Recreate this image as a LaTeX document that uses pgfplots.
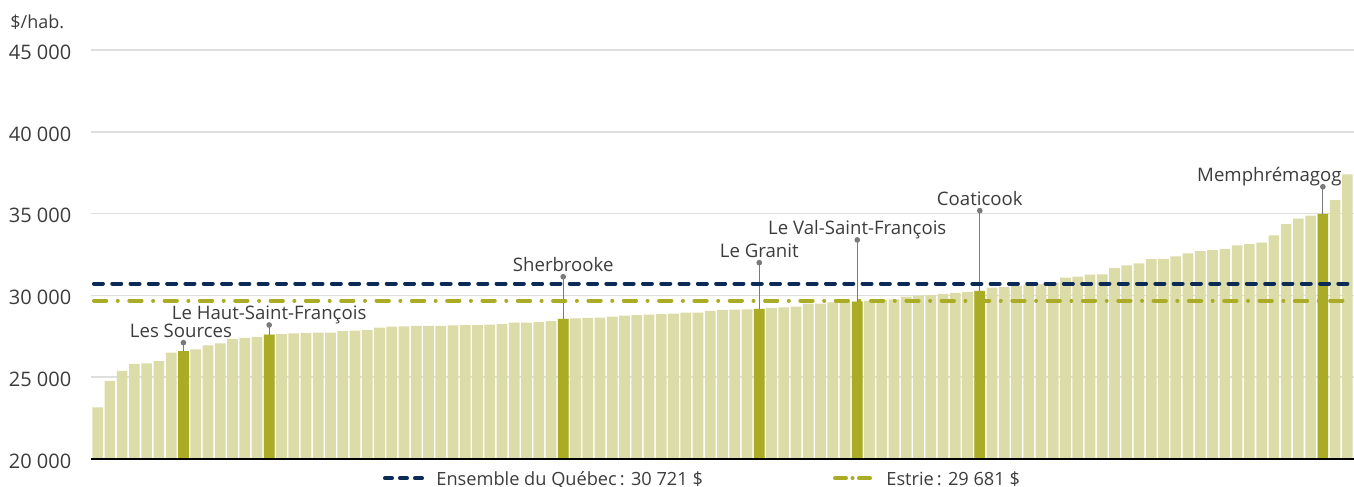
\documentclass[border=0pt]{standalone}
\usepackage{fontspec}
\setmainfont{Open Sans}
\usepackage{pgfplots}
\pgfplotsset{compat=1.18}
\usepackage{pgfplotstable}

\definecolor{barlight}{HTML}{DCDCA8}
\definecolor{barhi}{HTML}{AAAC26}
\definecolor{navy}{HTML}{0B2A55}
\definecolor{olive}{HTML}{AAAC26}
\definecolor{txt}{HTML}{3C3C3C}
\definecolor{gridc}{HTML}{DEDEDE}
\definecolor{leader}{HTML}{7A7A7A}

\pgfplotstableread{
x y
0 23160
1 24770
2 25380
3 25810
4 25850
5 25990
6 26500
7 26600
8 26700
9 26950
10 27070
11 27350
12 27410
13 27460
14 27600
15 27640
16 27680
17 27710
18 27720
19 27720
20 27820
21 27840
22 27880
23 28030
24 28090
25 28110
26 28130
27 28130
28 28130
29 28170
30 28190
31 28190
32 28210
33 28250
34 28330
35 28330
36 28370
37 28430
38 28560
39 28600
40 28620
41 28640
42 28700
43 28760
44 28800
45 28820
46 28860
47 28880
48 28940
49 28940
50 29060
51 29110
52 29130
53 29150
54 29170
55 29230
56 29270
57 29310
58 29490
59 29490
60 29580
61 29600
62 29620
63 29680
64 29720
65 29760
66 29920
67 29980
68 30010
69 30090
70 30150
71 30200
72 30270
73 30470
74 30510
75 30590
76 30650
77 30680
78 30780
79 31080
80 31140
81 31270
82 31290
83 31660
84 31840
85 31960
86 32220
87 32240
88 32390
89 32570
90 32710
91 32770
92 32850
93 33060
94 33140
95 33220
96 33670
97 34360
98 34690
99 34870
100 34990
101 35830
102 37400
}\allbars

\pgfplotstableread{
x y
7 26600
14 27600
38 28560
54 29170
62 29620
72 30270
100 34990
}\hibars

\newcommand{\lblfont}{\fontsize{9.3}{11}\selectfont}
\newcommand{\legfont}{\fontsize{9.1}{11}\selectfont}

\begin{document}
\begin{tikzpicture}
\useasboundingbox (-45.75pt,-14pt) rectangle (631.25pt,229.5pt);
\begin{axis}[
  scale only axis, width=631pt, height=204.5pt,
  xmin=-0.5, xmax=102.5, ymin=20000, ymax=45000,
  ytick={20000,25000,30000,35000,40000,45000},
  yticklabels={20~000,25~000,30~000,35~000,40~000,45~000},
  scaled y ticks=false,
  xtick=\empty,
  ymajorgrids, grid style={gridc, line width=0.75pt},
  axis line style={draw=none},
  major tick length=0pt,
  yticklabel style={font=\fontsize{10}{12}\selectfont, text=txt, anchor=base east, inner sep=0pt, xshift=-9.9pt, yshift=-4.65pt},
  clip=false,
  ybar, bar width=0.875, bar shift=0pt,
]
\addplot[fill=barlight, draw=none] table[x=x,y=y] {\allbars};
\addplot[fill=barhi, draw=none] table[x=x,y=y] {\hibars};

% leader lines
\addplot[leader, line width=0.6pt, sharp plot, mark=*, mark size=1.1pt, mark options={fill=leader, draw=leader, solid}, mark indices={2}] coordinates {(7,26600) (7,27110)};
\addplot[leader, line width=0.6pt, sharp plot, mark=*, mark size=1.1pt, mark options={fill=leader, draw=leader, solid}, mark indices={2}] coordinates {(14,27600) (14,28190)};
\addplot[leader, line width=0.6pt, sharp plot, mark=*, mark size=1.1pt, mark options={fill=leader, draw=leader, solid}, mark indices={2}] coordinates {(38,28560) (38,31140)};
\addplot[leader, line width=0.6pt, sharp plot, mark=*, mark size=1.1pt, mark options={fill=leader, draw=leader, solid}, mark indices={2}] coordinates {(54,29170) (54,32000)};
\addplot[leader, line width=0.6pt, sharp plot, mark=*, mark size=1.1pt, mark options={fill=leader, draw=leader, solid}, mark indices={2}] coordinates {(62,29620) (62,33390)};
\addplot[leader, line width=0.6pt, sharp plot, mark=*, mark size=1.1pt, mark options={fill=leader, draw=leader, solid}, mark indices={2}] coordinates {(72,30270) (72,35180)};
\addplot[leader, line width=0.6pt, sharp plot, mark=*, mark size=1.1pt, mark options={fill=leader, draw=leader, solid}, mark indices={2}] coordinates {(100,34990) (100,36640)};

% reference lines
\addplot[navy, line width=2pt, sharp plot, line cap=round, dash pattern=on 4.5pt off 4.65pt] coordinates {(-0.3,30721) (102.4,30721)};
\addplot[olive, line width=2pt, sharp plot, line cap=round, dash pattern=on 6.15pt off 5.75pt on 0.01pt off 5.75pt] coordinates {(-0.3,29681) (102.4,29681)};

\draw[black, line width=0.75pt] (axis cs:-0.5,20000) -- (axis cs:102.5,20000);

% labels
\node[anchor=base, inner sep=0pt, yshift=2.75pt, font=\lblfont, text=txt] at (axis cs:6.8,27110) {Les Sources};
\node[anchor=base, inner sep=0pt, yshift=2.75pt, font=\lblfont, text=txt] at (axis cs:14,28190) {Le Haut-Saint-François};
\node[anchor=base, inner sep=0pt, yshift=2.75pt, font=\lblfont, text=txt] at (axis cs:38,31140) {Sherbrooke};
\node[anchor=base, inner sep=0pt, yshift=2.75pt, font=\lblfont, text=txt] at (axis cs:54,32000) {Le Granit};
\node[anchor=base, inner sep=0pt, yshift=2.75pt, font=\lblfont, text=txt] at (axis cs:62,33390) {Le Val-Saint-François};
\node[anchor=base, inner sep=0pt, yshift=2.75pt, font=\lblfont, text=txt] at (axis cs:72,35180) {Coaticook};
\node[anchor=base east, inner sep=0pt, yshift=2.75pt, xshift=9.5pt, font=\lblfont, text=txt] at (axis cs:100,36640) {Memphrémagog};
\end{axis}

\node[anchor=base west, inner sep=0pt, font=\fontsize{9}{11}\selectfont, text=txt] at (-40.75pt,215pt) {\$/hab.};

% legend
\draw[navy, line width=2pt, line cap=round, dash pattern=on 3.5pt off 4pt] (146.75pt,-9.65pt) -- (165.25pt,-9.65pt);
\node[anchor=base west, inner sep=0pt, font=\legfont, text=txt] at (172.25pt,-13pt) {Ensemble du Québec\,: 30~721~\$};
\draw[olive, line width=2pt, line cap=round, dash pattern=on 5.5pt off 3.25pt on 0.01pt off 3.25pt] (371.75pt,-9.65pt) -- (389.25pt,-9.65pt);
\node[anchor=base west, inner sep=0pt, font=\legfont, text=txt] at (397.25pt,-13pt) {Estrie\,: 29~681~\$};
\end{tikzpicture}
\end{document}
